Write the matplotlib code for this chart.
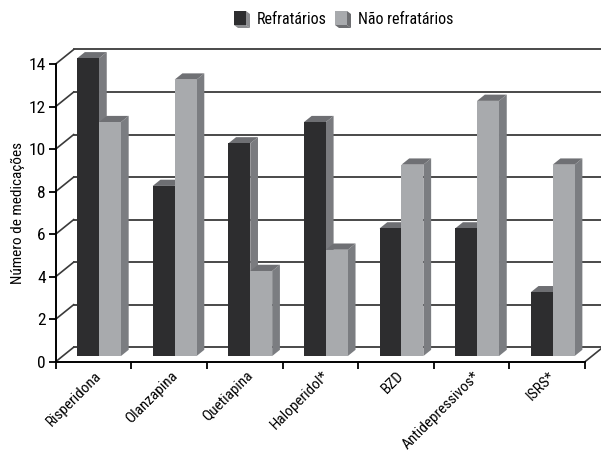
import matplotlib
matplotlib.use("Agg")
import matplotlib.pyplot as plt
from matplotlib import font_manager
from matplotlib.patches import Polygon
from matplotlib.transforms import offset_copy

# ---- data ----
categories = ["Risperidona", "Olanzapina", "Quetiapina", "Haloperidol*",
              "BZD", "Antidepressivos*", "ISRS*"]
refratarios = [14, 8, 10, 11, 6, 6, 3]
nao_refratarios = [11, 13, 4, 5, 9, 12, 9]
series_names = ["Refratários", "Não refratários"]
y_ticks = [0, 2, 4, 6, 8, 10, 12, 14]

# ---- font ----
available = {f.name for f in font_manager.fontManager.ttflist}
family = "DejaVu Sans"
for cand in ["Liberation Sans Narrow", "Roboto Condensed", "Open Sans Condensed", "DejaVu Sans"]:
    if cand in available:
        family = cand
        break
plt.rcParams["font.family"] = [family, "DejaVu Sans"]

W, H, DPI = 601, 451, 100
fig = plt.figure(figsize=(W / DPI, H / DPI), dpi=DPI)
ax = fig.add_axes([55.7 / W, (H - 361.7) / H, (585 - 55.7) / W, (361.7 - 64) / H])
n = len(categories)
ax.set_xlim(-0.5, n - 0.5)
ax.set_ylim(0, 14)

# pseudo-3D depth vector (data units) for the back wall
DX, DY = 0.238, 0.682
def P(x, y, d):
    return (x + d * DX, y + d * DY)

grid_col = "#3a3a3a"
# back wall grid lines and diagonals from the front axis
for v in y_ticks:
    x0, y0 = P(-0.5, v, 1)
    x1, y1 = P(n - 0.5 + 0.5, v, 1)
    ax.plot([x0, x1], [y0, y1], color=grid_col, lw=1.3, clip_on=False, zorder=1)
    ax.plot([-0.5, x0], [v, y0], color=grid_col, lw=1.2, clip_on=False, zorder=1)
# right edge of the floor
xr, yr = P(n - 0.5, 0, 1)
ax.plot([n - 0.5, xr], [0, yr], color=grid_col, lw=1.2, clip_on=False, zorder=1)

# ---- bars ----
w = 0.29
d0, d1 = 0.39, 0.82
styles = [
    dict(front="#2d2d2f", side="#7a7b7f", top="#6e6f73", off=-0.165),
    dict(front="#a8aaad", side="#7b7d81", top="#6f7074", off=0.125),
]
for i in range(n):
    for vals, st in zip([refratarios, nao_refratarios], styles):
        v = vals[i]
        xl = i + st["off"] - w / 2
        xrr = xl + w
        side = [P(xrr, 0, d0), P(xrr, v, d0), P(xrr, v, d1), P(xrr, 0, d1)]
        top = [P(xl, v, d0), P(xrr, v, d0), P(xrr, v, d1), P(xl, v, d1)]
        ax.add_patch(Polygon(side, closed=True, facecolor=st["side"], edgecolor="none",
                             clip_on=False, zorder=3))
        ax.add_patch(Polygon(top, closed=True, facecolor=st["top"], edgecolor="none",
                             clip_on=False, zorder=3))
        ax.bar(i + st["off"] + d0 * DX, v, width=w, bottom=d0 * DY,
               color=st["front"], edgecolor="none", clip_on=False, zorder=3)

# ---- axes ----
for s in ["top", "right"]:
    ax.spines[s].set_visible(False)
for s in ["left", "bottom"]:
    ax.spines[s].set_color("black")
    ax.spines[s].set_linewidth(1.4)
    ax.spines[s].set_zorder(5)
ax.set_yticks(y_ticks)
ax.set_yticklabels([str(t) for t in y_ticks], fontsize=12.5)
ax.set_xticks([i - 0.5 for i in range(n + 1)])
ax.set_xticklabels([])
ax.tick_params(axis="both", length=5, width=1.3, color="black", pad=2)
ax.set_ylabel("Número de medicações", fontsize=11, labelpad=3)

lbl_tr = offset_copy(ax.transData, fig=fig, x=1, y=-7, units="dots")
for i, c in enumerate(categories):
    ax.text(i, 0, c, rotation=45, ha="right", va="top", rotation_mode="anchor",
            fontsize=11, transform=lbl_tr)

# ---- legend ----
def px(x, y):
    return (x / W, 1 - y / H)

def legend_marker(x0, y0, front, bevel):
    fw, fh, dd = 12, 14, 4
    side = [px(x0 + fw, y0), px(x0 + fw + dd, y0 + 3), px(x0 + fw + dd, y0 + fh + 3), px(x0 + fw, y0 + fh)]
    bot = [px(x0, y0 + fh), px(x0 + fw, y0 + fh), px(x0 + fw + dd, y0 + fh + 3), px(x0 + dd, y0 + fh + 3)]
    frt = [px(x0, y0), px(x0 + fw, y0), px(x0 + fw, y0 + fh), px(x0, y0 + fh)]
    for poly, col in [(side, bevel), (bot, bevel), (frt, front)]:
        fig.patches.append(Polygon(poly, closed=True, facecolor=col, edgecolor="none",
                                   transform=fig.transFigure, figure=fig))

legend_marker(234, 11, "#2d2d2f", "#8c8d90")
fig.text(257 / W, 1 - 20 / H, series_names[0], fontsize=11.5, va="center", ha="left")
legend_marker(335, 11, "#a8aaad", "#6d6e71")
fig.text(358 / W, 1 - 20 / H, series_names[1], fontsize=11.5, va="center", ha="left")

fig.savefig("out.png", dpi=DPI, facecolor="white")
